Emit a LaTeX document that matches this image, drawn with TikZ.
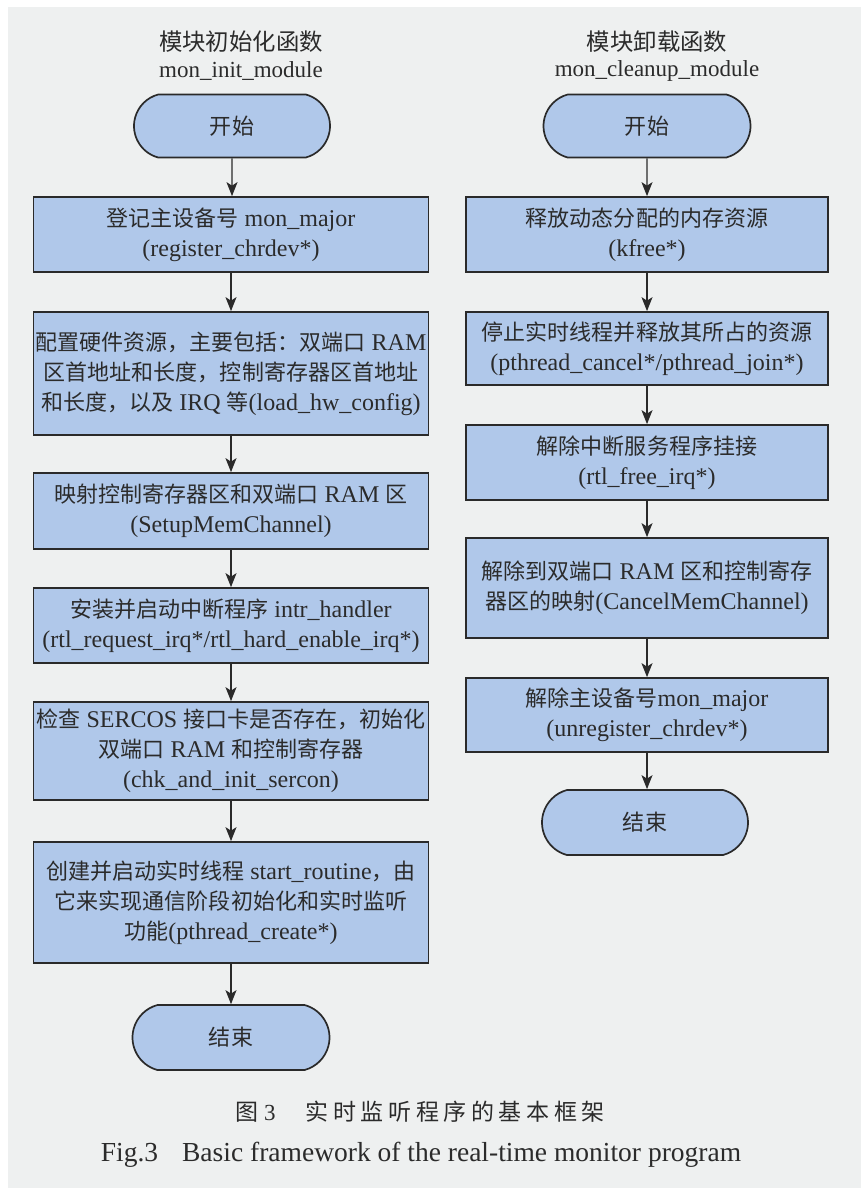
\documentclass[tikz,border=0pt]{standalone}
\usepackage{fontspec}
\setmainfont{Liberation Serif}
\newfontfamily\cjk[Scale=0.917]{Noto Sans CJK SC}
\newfontfamily\cjkcap[LetterSpace=20]{Noto Sans CJK SC}
\newcommand\zh[1]{{\cjk #1}}
\usetikzlibrary{arrows.meta,shapes.misc}
\definecolor{bg}{HTML}{EEF0F0}
\definecolor{bf}{HTML}{B0C8EA}
\definecolor{lc}{HTML}{2A2A2A}
\definecolor{tc}{HTML}{2B2B2B}
\tikzset{
  base/.style={draw=lc, line width=1.7pt, fill=bf, inner sep=0pt, align=center, text=tc,
    font=\fontsize{24}{30}\selectfont},
  lbox/.style={base, rectangle, minimum width=395pt},
  rbox/.style={base, rectangle, minimum width=362pt},
  term/.style={base, rounded rectangle, rounded rectangle arc length=150, minimum height=63pt},
  arr/.style={draw=lc, line width=1.3pt, -{Stealth[length=14pt,width=11pt,inset=3.5pt]}},
  ttl/.style={text=tc, align=center},
}
\begin{document}
\begin{tikzpicture}[x=1pt,y=-1pt]
\useasboundingbox (0,0) rectangle (861,1194);
\fill[white] (0,0) rectangle (861,1194);
\fill[bg] (8,7) rectangle (861,1188);

% titles
\node[ttl, font=\fontsize{25.5}{28}\selectfont] (lt1) at (241,42) {\zh{模块初始化函数}};
\node[ttl, font=\fontsize{23}{28}\selectfont] (lt2) at (241,71) {mon\_init\_module};
\node[ttl, font=\fontsize{25.5}{28}\selectfont] (rt1) at (657,42) {\zh{模块卸载函数}};
\node[ttl, font=\fontsize{23}{28}\selectfont] (rt2) at (657,71) {mon\_cleanup\_module};

% left column
\node[term, minimum width=196pt] (ls) at (232,126) {\zh{开始}};
\node[lbox, minimum height=75pt] (l1) at (231,234.5) {\zh{登记主设备号} mon\_major\\(register\_chrdev*)};
\node[lbox, minimum height=123pt] (l2) at (231,373.5) {\zh{配置硬件资源，主要包括：双端口} RAM\\\zh{区首地址和长度，控制寄存器区首地址}\\\zh{和长度，以及} IRQ \zh{等}(load\_hw\_config)};
\node[lbox, minimum height=76pt] (l3) at (231,511) {\zh{映射控制寄存器区和双端口} RAM \zh{区}\\(SetupMemChannel)};
\node[lbox, minimum height=75pt] (l4) at (231,625.5) {\zh{安装并启动中断程序} intr\_handler\\(rtl\_request\_irq*/rtl\_hard\_enable\_irq*)};
\node[lbox, minimum height=98pt] (l5) at (231,751) {\zh{检查} SERCOS \zh{接口卡是否存在，初始化}\\\zh{双端口} RAM \zh{和控制寄存器}\\(chk\_and\_init\_sercon)};
\node[lbox, minimum height=121pt] (l6) at (231,902.5) {\zh{创建并启动实时线程} start\_routine\zh{，由}\\\zh{它来实现通信阶段初始化和实时监听}\\\zh{功能}(pthread\_create*)};
\node[term, minimum width=197pt, minimum height=65pt] (le) at (231,1037.5) {\zh{结束}};

% right column
\node[term, minimum width=207pt] (rs) at (647,126) {\zh{开始}};
\node[rbox, minimum height=75pt] (r1) at (647,234.5) {\zh{释放动态分配的内存资源}\\(kfree*)};
\node[rbox, minimum height=73pt] (r2) at (647,348.5) {\zh{停止实时线程并释放其所占的资源}\\(pthread\_cancel*/pthread\_join*)};
\node[rbox, minimum height=75pt] (r3) at (647,462.5) {\zh{解除中断服务程序挂接}\\(rtl\_free\_irq*)};
\node[rbox, minimum height=100pt] (r4) at (647,588) {\zh{解除到双端口} RAM \zh{区和控制寄存}\\\zh{器区的映射}(CancelMemChannel)};
\node[rbox, minimum height=74pt] (r5) at (647,715) {\zh{解除主设备号}mon\_major\\(unregister\_chrdev*)};
\node[term, minimum width=206pt, minimum height=65pt] (re) at (645,822.5) {\zh{结束}};

% connectors
\draw[arr] (ls) -- (ls |- l1.north);
\draw[arr] (l1) -- (l2);
\draw[arr] (l2) -- (l3);
\draw[arr] (l3) -- (l4);
\draw[arr] (l4) -- (l5);
\draw[arr] (l5) -- (l6);
\draw[arr] (l6) -- (l6 |- le.north);
\draw[arr] (rs) -- (r1);
\draw[arr] (r1) -- (r2);
\draw[arr] (r2) -- (r3);
\draw[arr] (r3) -- (r4);
\draw[arr] (r4) -- (r5);
\draw[arr] (r5) -- (r5 |- re.north);

% caption
\node[text=tc, font=\fontsize{23}{28}\selectfont] (cap1) at (420,1112) {{\cjkcap 图} 3\hspace{30pt}{\cjkcap 实时监听程序的基本框架}};
\node[text=tc, font=\fontsize{27.5}{30}\selectfont] (cap2) at (421,1155) {Fig.3\hspace{24pt}Basic framework of the real-time monitor program};
\end{tikzpicture}
\end{document}
